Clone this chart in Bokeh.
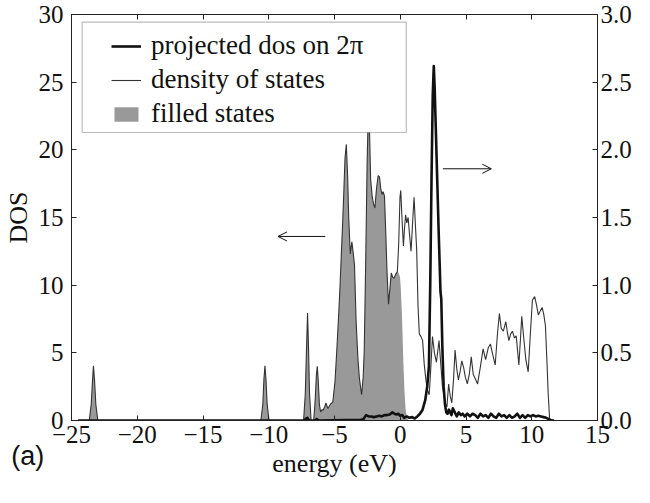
from bokeh.plotting import figure
from bokeh.models import (Range1d, LinearAxis, FixedTicker, Legend, LegendItem,
                          BoxAnnotation, Arrow, OpenHead, Label, Title)
from bokeh.embed import file_html
from bokeh.resources import INLINE
from bokeh.core.properties import value

# ---------------- data ----------------
energy = [
    -24.5, -23.65, -23.5, -23.4, -23.33, -23.25, -23.15, -23.0, -10.6, -10.45,
    -10.37, -10.29, -10.21, -10.12, -9.98, -7.35, -7.22, -7.12, -7.05, -6.98,
    -6.9, -6.78, -6.58, -6.47, -6.38, -6.31, -6.24, -6.15, -6.06, -5.95,
    -5.87, -5.75, -5.65, -5.5, -5.4, -5.28, -5.13, -4.96, -4.83, -4.7,
    -4.58, -4.48, -4.38, -4.28, -4.2, -4.1, -4.0, -3.92, -3.8, -3.68,
    -3.58, -3.48, -3.36, -3.22, -3.11, -2.94, -2.82, -2.74, -2.62, -2.52,
    -2.42, -2.34, -2.25, -2.13, -2.03, -1.93, -1.8, -1.68, -1.58, -1.48,
    -1.38, -1.3, -1.2, -1.1, -1.0, -0.89, -0.8, -0.68, -0.58, -0.48,
    -0.35, -0.22, -0.12, -0.02, 0.04, 0.13, 0.24, 0.33, 0.41, 0.5,
    0.6, 0.7, 0.82, 0.95, 1.05, 1.15, 1.25, 1.35, 1.45, 1.58,
    1.7, 1.82, 1.95, 2.08, 2.2, 2.32, 2.45, 2.6, 2.75, 2.95,
    3.08, 3.2, 3.3, 3.45, 3.55, 3.68, 3.8, 3.92, 4.05, 4.17,
    4.3, 4.42, 4.55, 4.68, 4.82, 4.95, 5.1, 5.25, 5.4, 5.55,
    5.7, 5.88, 6.1, 6.3, 6.49, 6.7, 6.86, 7.05, 7.22, 7.4,
    7.54, 7.68, 7.84, 8.03, 8.15, 8.26, 8.4, 8.53, 8.68, 8.82,
    9.02, 9.14, 9.24, 9.4, 9.55, 9.73, 9.9, 10.05, 10.22, 10.35,
    10.5, 10.65, 10.79, 10.92, 11.04, 11.15, 11.25, 11.36, 11.7,
]

dos_total = [
    0, 0, 1.2, 3.0, 4.05, 3.0, 1.2, 0, 0, 1.2,
    3.0, 4.05, 3.0, 1.2, 0, 0, 2.0, 5.6, 7.95, 5.6,
    2.0, 0, 0, 1.5, 3.3, 4.0, 3.0, 1.2, 0.64, 0.8,
    0.76, 1.0, 1.29, 0.88, 1.05, 1.24, 1.36, 2.9, 5.1, 7.5,
    9.9, 12.3, 14.6, 17.2, 19.4, 20.4, 18.0, 15.0, 12.3, 13.2,
    12.4, 11.5, 7.4, 4.6, 3.15, 1.9, 3.2, 5.1, 12.2, 19.0,
    23.2, 21.5, 17.8, 16.5, 16.0, 15.7, 17.2, 18.1, 18.0, 17.1,
    16.7, 16.9, 16.6, 13.8, 10.8, 8.6, 9.6, 10.9, 10.6, 10.5,
    10.8, 11.0, 13.0, 16.5, 17.0, 15.0, 12.9, 14.3, 15.2, 14.6,
    15.0, 13.8, 12.5, 14.8, 16.5, 14.5, 12.6, 8.5, 6.4, 6.2,
    5.9, 4.2, 3.0, 2.2, 1.9, 3.8, 6.2, 5.0, 4.3, 5.9,
    4.2, 2.6, 2.0, 1.2, 1.0, 2.7, 1.8, 1.3, 3.0, 5.2,
    3.8, 3.0, 3.6, 4.4, 3.9, 3.2, 2.7, 3.4, 4.7, 3.4,
    3.1, 2.7, 4.0, 5.3, 4.5, 5.4, 5.65, 4.8, 4.1, 6.5,
    7.9, 6.8, 6.6, 7.3, 6.5, 5.9, 6.4, 6.6, 6.1, 6.25,
    4.1, 6.0, 7.7, 6.0, 4.5, 3.6, 6.5, 8.9, 9.15, 8.6,
    7.8, 8.1, 8.35, 7.8, 7.0, 4.5, 2.0, 0.05, 0,
]

# filled (occupied) states, on the first points of the same energy grid
dos_filled = [
    0, 0, 1.2, 3.0, 4.05, 3.0, 1.2, 0, 0, 1.2,
    3.0, 4.05, 3.0, 1.2, 0, 0, 2.0, 5.6, 7.95, 5.6,
    2.0, 0, 0, 1.5, 3.3, 4.0, 3.0, 1.2, 0.64, 0.8,
    0.76, 1.0, 1.29, 0.88, 1.05, 1.24, 1.36, 2.9, 5.1, 7.5,
    9.9, 12.3, 14.6, 17.2, 19.4, 20.4, 18.0, 15.0, 12.3, 13.2,
    12.4, 11.5, 7.4, 4.6, 3.15, 1.9, 3.2, 5.1, 12.2, 19.0,
    23.2, 21.5, 17.8, 16.5, 16.0, 15.7, 17.2, 18.1, 18.0, 17.1,
    16.7, 16.9, 16.6, 13.8, 10.8, 8.6, 9.6, 10.9, 10.6, 10.5,
    10.8, 11.0, 10.9, 10.6, 9.8, 7.8, 4.2, 2.0, 0.8, 0.3,
    0,
]

energy_proj = [
    -24.5, -7.3, -7.15, -7.05, -6.95, -6.5, -6.35, -6.2, -3.0, -2.8,
    -2.6, -2.4, -2.2, -2.0, -1.8, -1.6, -1.4, -1.2, -1.0, -0.8,
    -0.6, -0.45, -0.3, -0.15, 0.0, 0.15, 0.3, 0.5, 0.7, 0.9,
    1.1, 1.3, 1.5, 1.7, 1.9, 2.05, 2.18, 2.28, 2.38, 2.47,
    2.55, 2.62, 2.72, 2.82, 2.92, 3.0, 3.06, 3.12, 3.2, 3.3,
    3.4, 3.5, 3.6, 3.7, 3.8, 3.9, 4.0, 4.15, 4.3, 4.45,
    4.6, 4.75, 4.9, 5.1, 5.3, 5.5, 5.7, 5.9, 6.1, 6.3,
    6.5, 6.7, 6.9, 7.1, 7.3, 7.5, 7.7, 7.9, 8.1, 8.3,
    8.5, 8.7, 8.9, 9.1, 9.3, 9.5, 9.7, 9.9, 10.1, 10.3,
    10.5, 10.7, 10.9, 11.1, 11.3, 11.5, 11.7,
]

dos_proj = [
    0, 0, 0.015, 0.02, 0.0, 0.0, 0.01, 0.0, 0.005, 0.01,
    0.04, 0.03, 0.03, 0.025, 0.03, 0.035, 0.03, 0.04, 0.04, 0.045,
    0.06, 0.05, 0.045, 0.05, 0.035, 0.04, 0.02, 0.03, 0.02, 0.025,
    0.015, 0.03, 0.05, 0.08, 0.15, 0.25, 0.4, 1.0, 1.8, 2.4,
    2.62, 2.45, 2.1, 1.75, 1.4, 1.15, 0.95, 0.9, 0.55, 0.25,
    0.12, 0.06, 0.05, 0.08, 0.06, 0.04, 0.09, 0.06, 0.03, 0.06,
    0.04, 0.05, 0.03, 0.05, 0.03, 0.05, 0.04, 0.02, 0.05, 0.03,
    0.04, 0.02, 0.05, 0.03, 0.02, 0.05, 0.03, 0.04, 0.02, 0.04,
    0.02, 0.03, 0.05, 0.02, 0.04, 0.02, 0.04, 0.03, 0.04, 0.03,
    0.035, 0.03, 0.025, 0.02, 0.01, 0.0, 0.0,
]

x_ticks = [-25, -20, -15, -10, -5, 0, 5, 10, 15]
x_tick_labels = ["\u221225", "\u221220", "\u221215", "\u221210", "\u22125", "0", "5", "10", "15"]
left_ticks = [0, 5, 10, 15, 20, 25, 30]
left_tick_labels = ["0", "5", "10", "15", "20", "25", "30"]
right_ticks = [0, 0.5, 1.0, 1.5, 2.0, 2.5, 3.0]
right_tick_labels = ["0.0", "0.5", "1.0", "1.5", "2.0", "2.5", "3.0"]

legend_labels = ["projected dos on 2\u03c0", "density of states", "filled states"]
x_label = "energy (eV)"
y_label = "DOS"
panel_tag = "(a)"

assert len(energy) == len(dos_total)
assert len(energy_proj) == len(dos_proj)

SERIF = "Liberation Serif"
AX = "#222222"
INK = "#111111"

p = figure(width=634, height=487, output_backend="svg", toolbar_location=None,
           x_range=Range1d(-25, 15), y_range=Range1d(0, 30),
           min_border_left=68, min_border_right=37, min_border_top=14,
           min_border_bottom=67)
p.extra_y_ranges = {"proj": Range1d(0, 3)}
p.grid.visible = False
p.outline_line_color = AX
p.background_fill_color = "white"
p.border_fill_color = "white"


def style_axis(ax, size="25px"):
    ax.major_tick_in = 5
    ax.major_tick_out = 0
    ax.minor_tick_line_color = None
    ax.axis_line_color = AX
    ax.major_tick_line_color = AX
    ax.major_label_text_font = SERIF
    ax.major_label_text_font_size = size
    ax.major_label_text_color = INK
    ax.axis_label_text_font = SERIF
    ax.axis_label_text_font_size = "26px"
    ax.axis_label_text_font_style = "normal"
    ax.axis_label_text_color = INK


xa = p.xaxis[0]
xa.ticker = FixedTicker(ticks=x_ticks)
xa.major_label_overrides = dict(zip(x_ticks, x_tick_labels))
style_axis(xa)
xa.major_label_standoff = 5

ya = p.yaxis[0]
ya.ticker = FixedTicker(ticks=left_ticks)
ya.major_label_overrides = dict(zip(left_ticks, left_tick_labels))
style_axis(ya)
ya.major_label_standoff = 8
ya.axis_label = y_label
ya.axis_label_standoff = 3

top = LinearAxis(ticker=FixedTicker(ticks=x_ticks))
style_axis(top, "1px")
top.major_label_text_color = None
top.major_label_standoff = 0
p.add_layout(top, "above")

right = LinearAxis(y_range_name="proj", ticker=FixedTicker(ticks=right_ticks))
right.major_label_overrides = dict(zip(right_ticks, right_tick_labels))
style_axis(right, "25px")
right.major_label_standoff = 3
p.add_layout(right, "right")

# ---------------- glyphs ----------------
fill = p.varea(x=energy[:len(dos_filled)], y1=[0] * len(dos_filled), y2=dos_filled,
               fill_color="#999999", fill_alpha=1.0)
tot = p.line(energy, dos_total, line_color="#333333", line_width=1.1)
proj = p.line(energy_proj, dos_proj, y_range_name="proj",
              line_color=INK, line_width=2.6, line_join="round")

# ---------------- arrows ----------------
p.add_layout(Arrow(end=OpenHead(size=9, line_width=1, line_color=INK),
                   x_start=-5.7, y_start=13.6, x_end=-9.3, y_end=13.6,
                   line_width=1, line_color=INK))
p.add_layout(Arrow(end=OpenHead(size=9, line_width=1, line_color=INK),
                   x_start=3.24, y_start=18.6, x_end=6.93, y_end=18.6,
                   line_width=1, line_color=INK))

# ---------------- legend ----------------
p.add_layout(BoxAnnotation(left=-24.19, right=0.46, bottom=21.28, top=29.44,
                           fill_color="white", fill_alpha=1.0,
                           line_color=AX, line_width=1.2))
legend = Legend(items=[LegendItem(label=value(legend_labels[0]), renderers=[proj]),
                       LegendItem(label=value(legend_labels[1]), renderers=[tot]),
                       LegendItem(label=value(legend_labels[2]), renderers=[fill])],
                location=(40, 291), padding=0, margin=0, spacing=3,
                glyph_width=30, glyph_height=18, label_standoff=10,
                label_height=31,
                label_text_font=SERIF, label_text_font_size="27px",
                label_text_color=INK,
                background_fill_alpha=0, border_line_alpha=0)
p.add_layout(legend)

# ---------------- bottom texts (side panel) ----------------
p.add_layout(Label(x=-29.58, y=-2.6, text=panel_tag, text_font="Liberation Sans",
                   text_font_size="27px", text_align="left",
                   text_baseline="alphabetic", text_color=INK), "below")
p.add_layout(Title(text=x_label, align="center", vertical_align="top",
                   text_font=SERIF, text_font_size="26px",
                   text_font_style="normal", text_color=INK,
                   standoff=-53), "below")

open("out.html", "w").write(file_html(p, INLINE))
